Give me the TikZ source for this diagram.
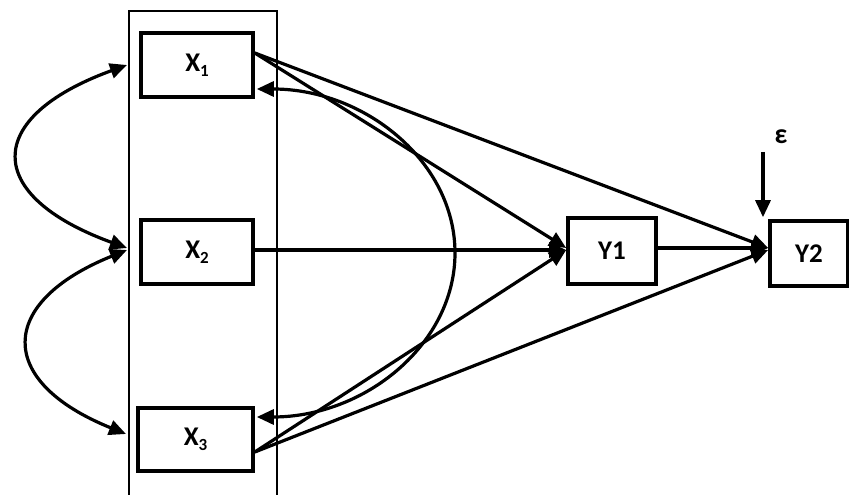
\documentclass[tikz,border=0pt]{standalone}
\usepackage{fontspec}
\setmainfont{Carlito}
\usetikzlibrary{arrows.meta}
\tikzset{
  box/.style={draw=black, line width=3.6pt, fill=white, inner sep=0pt, font=\fontsize{27}{27}\selectfont\bfseries},
  conn/.style={line width=3.2pt, -{Triangle[length=17pt,width=15pt]}},
  biconn/.style={line width=3.2pt, {Triangle[length=17pt,width=15pt]}-{Triangle[length=17pt,width=15pt]}},
}
\newcommand{\subn}[1]{\raisebox{-5pt}{\fontsize{17}{17}\selectfont #1}}
\begin{document}
\begin{tikzpicture}[x=1pt,y=1pt]
\useasboundingbox (0,0) rectangle (849,495);
% frame
\node[draw=black, line width=1.3pt, minimum width=148pt, minimum height=495pt, inner sep=0pt] (frame) at (203,236.5) {};
% boxes
\node[box, minimum width=112pt, minimum height=64pt] (x1) at (197,430) {X\subn{1}};
\node[box, minimum width=112pt, minimum height=64pt] (x2) at (197,243) {X\subn{2}};
\node[box, minimum width=115pt, minimum height=63pt] (x3) at (195.5,55.5) {X\subn{3}};
\node[box, minimum width=88pt, minimum height=66pt] (y1) at (612,244) {Y1};
\node[box, minimum width=78pt, minimum height=65pt] (y2) at (809,241.5) {Y2};
\node[font=\fontsize{28}{28}\selectfont\bfseries] (eps) at (781,358) {ε};
% left correlation tips
\coordinate (l1) at (127,430);
\coordinate (l2) at (127,247);
\coordinate (l2b) at (127,245);
\coordinate (l3) at (126,61);
\draw[biconn] (l1) to[out=200, in=160, looseness=2.15] (l2);
\draw[biconn] (l2b) to[out=202, in=158, looseness=1.95] (l3);
% paths
\draw[conn] ([yshift=12pt]x1.east) -- ([yshift=3pt]y1.west);
\draw[conn] ([yshift=12pt]x1.east) -- ([yshift=5.5pt]y2.west);
\draw[conn] ([yshift=2pt]x2.east) -- ([yshift=1pt]y1.west);
\draw[conn] ([yshift=-12.5pt]x3.east) -- ([yshift=1pt]y1.west);
\draw[conn] ([yshift=-12.5pt]x3.east) -- ([yshift=3.5pt]y2.west);
\draw[conn] ([yshift=3pt]y1.east) -- ([yshift=5.5pt]y2.west);
% big correlation X1-X3
\draw[biconn] ([xshift=2pt,yshift=-24pt]x1.east) .. controls (365,406) and (455,333) .. (455,242) .. controls (455,151) and (365,78) .. ([xshift=2pt,yshift=22.5pt]x3.east);
% error term
\coordinate (e0) at (763,343);
\draw[conn] (e0) -- ([xshift=-46pt,yshift=2pt]y2.north);
\end{tikzpicture}
\end{document}
